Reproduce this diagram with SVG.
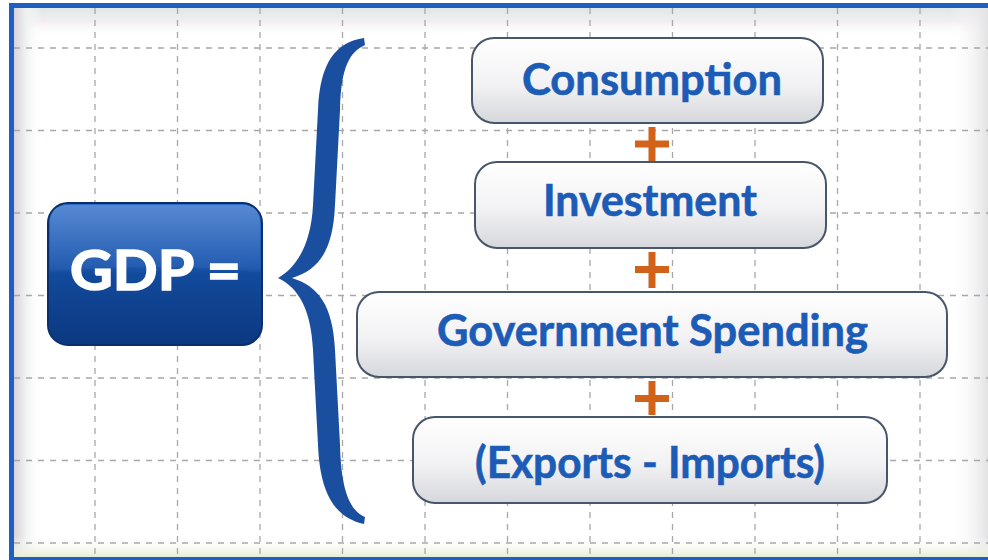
<svg xmlns="http://www.w3.org/2000/svg" width="988" height="560" viewBox="0 0 988 560">
  <defs>
    <linearGradient id="bgTop" x1="0" y1="0" x2="0" y2="1">
      <stop offset="0" stop-color="#dfe8e4"/>
      <stop offset="0.5" stop-color="#f3eef3"/>
      <stop offset="1" stop-color="#ffffff" stop-opacity="0"/>
    </linearGradient>
    <linearGradient id="bgLeft" x1="0" y1="0" x2="1" y2="0">
      <stop offset="0" stop-color="#d8d4dc"/>
      <stop offset="0.4" stop-color="#eef0f0"/>
      <stop offset="1" stop-color="#ffffff" stop-opacity="0"/>
    </linearGradient>
    <linearGradient id="bgRight" x1="0" y1="0" x2="1" y2="0">
      <stop offset="0" stop-color="#ffffff" stop-opacity="0"/>
      <stop offset="1" stop-color="#e2e2e4"/>
    </linearGradient>
    <linearGradient id="bgBottom" x1="0" y1="0" x2="0" y2="1">
      <stop offset="0" stop-color="#ffffff" stop-opacity="0"/>
      <stop offset="1" stop-color="#e8ecd6"/>
    </linearGradient>
    <linearGradient id="boxFill" x1="0" y1="0" x2="0" y2="1">
      <stop offset="0" stop-color="#ffffff"/>
      <stop offset="0.55" stop-color="#f2f2f4"/>
      <stop offset="1" stop-color="#d6d7dc"/>
    </linearGradient>
    <linearGradient id="gdpFill" x1="0" y1="0" x2="0" y2="1">
      <stop offset="0" stop-color="#2c6cc8"/>
      <stop offset="0.45" stop-color="#1a55ad"/>
      <stop offset="0.5" stop-color="#124a9c"/>
      <stop offset="1" stop-color="#0b3880"/>
    </linearGradient>
    <linearGradient id="gdpGloss" x1="0" y1="0" x2="0" y2="1">
      <stop offset="0" stop-color="#ffffff" stop-opacity="0.2"/>
      <stop offset="1" stop-color="#ffffff" stop-opacity="0.03"/>
    </linearGradient>
    <style>
      .grid line { stroke: #a8a8a8; stroke-width: 1.3; stroke-dasharray: 6 6; }
      .box { fill: url(#boxFill); stroke: #47566a; stroke-width: 2; }
      .label { font-family: Lato, "Open Sans", "Liberation Sans", sans-serif; font-weight: bold; font-size: 44px; fill: #1c5bb6; stroke: #1c5bb6; stroke-width: 0.6; text-anchor: middle; }
      .plus { fill: #d2611a; }
      .brace { fill: #1a4f9f; }
    </style>
  </defs>

  <!-- background -->
  <rect x="0" y="0" width="988" height="560" fill="#ffffff"/>
  <rect x="14" y="8" width="974" height="28" fill="url(#bgTop)"/>
  <rect x="14" y="8" width="28" height="548" fill="url(#bgLeft)"/>
  <rect x="950" y="8" width="38" height="548" fill="url(#bgRight)"/>
  <rect x="14" y="536" width="974" height="21" fill="url(#bgBottom)"/>

  <!-- grid -->
  <g class="grid">
    <line x1="95" y1="8" x2="95" y2="557"/>
    <line x1="177.5" y1="8" x2="177.5" y2="557"/>
    <line x1="260" y1="8" x2="260" y2="557"/>
    <line x1="342.5" y1="8" x2="342.5" y2="557"/>
    <line x1="425" y1="8" x2="425" y2="557"/>
    <line x1="507.5" y1="8" x2="507.5" y2="557"/>
    <line x1="590" y1="8" x2="590" y2="557"/>
    <line x1="672.5" y1="8" x2="672.5" y2="557"/>
    <line x1="755" y1="8" x2="755" y2="557"/>
    <line x1="837.5" y1="8" x2="837.5" y2="557"/>
    <line x1="920" y1="8" x2="920" y2="557"/>
    <line x1="14" y1="48" x2="988" y2="48"/>
    <line x1="14" y1="130.5" x2="988" y2="130.5"/>
    <line x1="14" y1="213" x2="988" y2="213"/>
    <line x1="14" y1="295.5" x2="988" y2="295.5"/>
    <line x1="14" y1="378" x2="988" y2="378"/>
    <line x1="14" y1="460.5" x2="988" y2="460.5"/>
    <line x1="14" y1="543" x2="988" y2="543"/>
  </g>

  <!-- frame -->
  <rect x="10" y="3" width="978" height="5" fill="#1f5fbf"/>
  <rect x="9" y="3" width="5" height="557" fill="#1f5fbf"/>
  <rect x="9" y="557" width="979" height="3" fill="#1f5fbf"/>

  <!-- connectors: brace and plus signs -->
  <g id="connectors">
    <path class="brace" d="M 364,38 C 336,42 320,62 318,110 L 313,205 C 311,245 296,268 278,278 C 299,288 311,310 313,350 L 318,445 C 320,495 336,518 364,524 L 365,517 C 350,511 341,490 340,445 L 335,350 C 333,305 318,286 292,278 C 318,270 333,252 335,205 L 340,110 C 341,66 350,52 365,45 Z"/>
    <g id="plus1"><rect class="plus" x="648.5" y="127" width="7" height="35"/><rect class="plus" x="635" y="140.5" width="34" height="7"/></g>
    <g id="plus2"><rect class="plus" x="648.5" y="252" width="7" height="36"/><rect class="plus" x="635" y="266" width="34" height="7"/></g>
    <g id="plus3"><rect class="plus" x="648.5" y="381" width="7" height="34"/><rect class="plus" x="635" y="395" width="34" height="7"/></g>
  </g>

  <!-- GDP node -->
  <g id="gdp">
    <rect x="48" y="203" width="214" height="142" rx="20" fill="url(#gdpFill)" stroke="#0b2f6c" stroke-width="2"/>
    <path d="M 68,205 L 242,205 Q 260,205 260,223 L 260,272 Q 155,262 50,272 L 50,223 Q 50,205 68,205 Z" fill="url(#gdpGloss)"/>
    <text x="155.5" y="290" font-family="Lato, 'Open Sans', 'Liberation Sans', sans-serif" font-weight="bold" font-size="56" fill="#ffffff" stroke="#ffffff" stroke-width="1.6" text-anchor="middle" textLength="171" lengthAdjust="spacingAndGlyphs">GDP =</text>
  </g>

  <!-- term nodes -->
  <g id="consumption">
    <rect class="box" x="472" y="38" width="351" height="85" rx="22"/>
    <text class="label" x="652" y="95" textLength="260" lengthAdjust="spacingAndGlyphs">Consumption</text>
  </g>
  <g id="investment">
    <rect class="box" x="475" y="162" width="351" height="86" rx="22"/>
    <text class="label" x="650" y="216" textLength="214" lengthAdjust="spacingAndGlyphs">Investment</text>
  </g>
  <g id="government">
    <rect class="box" x="357" y="292" width="590" height="85" rx="22"/>
    <text class="label" x="652.5" y="346" textLength="431" lengthAdjust="spacingAndGlyphs">Government Spending</text>
  </g>
  <g id="netexports">
    <rect class="box" x="413" y="417" width="474" height="86" rx="22"/>
    <text class="label" x="650" y="478" textLength="350" lengthAdjust="spacingAndGlyphs">(Exports - Imports)</text>
  </g>
</svg>
